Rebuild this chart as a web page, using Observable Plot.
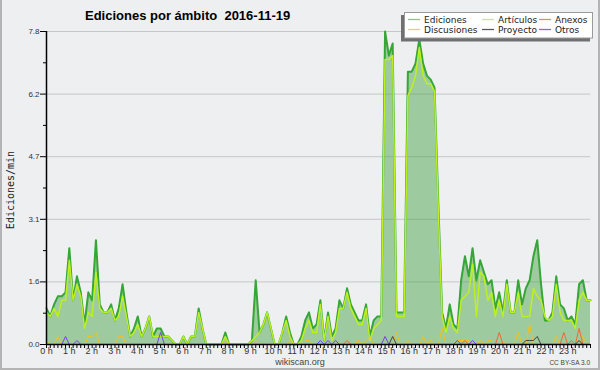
<!DOCTYPE html>
<html><head><meta charset="utf-8">
<script src="https://cdn.jsdelivr.net/npm/d3@7"></script>
<script src="https://cdn.jsdelivr.net/npm/@observablehq/plot@0.6"></script>
<style>
body{margin:0;background:#fff}
#wrap{position:relative;width:600px;height:370px;background:#eeeff1;overflow:hidden}
#wrap svg{position:absolute;left:0;top:0}
#frame{position:absolute;left:0;top:0;width:600px;height:370px;box-sizing:border-box;border:2px solid #b4b4b4;border-top:none;pointer-events:none}
</style></head>
<body><div id="wrap"></div>
<script>
// 10-minute bins, values in edits per minute
const ediciones = [
  0.9,0.7,1.0,1.2,1.2,1.3, 2.4,1.1,1.7,1.3,0.5,1.3,
  1.1,2.6,1.0,0.8,0.8,1.0, 0.6,0.9,1.5,0.8,0.2,0.4,
  0.7,0.2,0.4,0.7,0.2,0.4, 0.4,0.2,0.2,0.1,0.0,0.0,
  0.2,0.0,0.2,0.2,0.9,0.4, 0.0,0.0,0.0,0.0,0.0,0.3,
  0.0,0.0,0.0,0.0,0.0,0.0, 0.1,1.6,0.3,0.5,0.8,0.4,
  0.0,0.0,0.3,0.7,0.3,0.0, 0.0,0.2,0.6,0.8,0.4,0.5,
  1.1,0.1,0.8,0.2,0.4,1.1, 0.9,1.4,1.0,0.8,0.6,0.6,
  1.0,0.2,0.6,0.7,0.7,7.8, 7.2,7.5,0.8,0.8,0.8,6.8,
  6.8,7.0,7.6,7.0,6.7,6.6, 6.4,3.5,0.8,0.4,1.0,0.5,
  0.4,1.6,2.2,1.7,2.4,1.6, 2.1,1.8,1.5,1.6,0.9,1.3,
  0.8,1.6,0.8,0.8,1.6,1.0, 1.4,1.6,2.2,2.6,1.5,0.6,
  0.6,0.8,1.7,1.0,0.9,0.6, 0.7,0.5,1.5,1.6,1.1,1.1
];
const articulos = [
  0.8,0.7,0.9,0.7,1.1,1.1, 2.1,1.1,1.5,1.2,0.4,0.8,
  0.7,1.8,0.9,0.8,0.8,0.9, 0.6,0.7,1.2,0.7,0.2,0.3,
  0.5,0.2,0.4,0.7,0.2,0.2, 0.2,0.2,0.2,0.1,0.0,0.0,
  0.2,0.0,0.2,0.2,0.8,0.4, 0.0,0.0,0.0,0.0,0.0,0.2,
  0.0,0.0,0.0,0.0,0.0,0.0, 0.1,0.2,0.3,0.5,0.8,0.4,
  0.0,0.0,0.3,0.6,0.2,0.0, 0.0,0.1,0.4,0.6,0.3,0.3,
  1.0,0.1,0.7,0.1,0.3,0.9, 0.9,1.3,0.9,0.7,0.5,0.5,
  0.9,0.1,0.4,0.5,0.6,7.1, 7.1,7.2,0.7,0.7,0.7,6.2,
  6.4,6.7,7.4,6.7,6.5,6.5, 6.3,3.3,0.7,0.3,0.7,0.4,
  0.3,1.1,1.2,1.3,2.0,0.7, 1.8,1.7,1.1,1.3,0.7,1.1,
  0.7,1.5,0.8,0.8,1.3,0.7, 0.7,0.7,1.4,1.2,1.1,0.7,
  0.6,0.7,1.5,0.8,0.6,0.6, 0.6,0.4,1.1,1.3,1.1,1.1
];
const discusiones = [
  0.1,0,0,0.2,0,0, 0,0,0,0,0,0.2,
  0.2,0.3,0,0,0,0, 0,0.2,0.2,0,0,0,
  0,0,0,0,0,0, 0,0,0,0,0,0,
  0,0,0,0,0,0, 0,0,0,0,0,0.1,
  0,0,0,0,0,0, 0,0.1,0,0,0,0,
  0,0,0,0,0.1,0, 0,0,0.1,0.1,0,0,
  0,0,0,0,0,0, 0,0,0,0,0.1,0,
  0.1,0.2,0,0,0,0, 0,0,0.3,0,0,0.1,
  0,0,0,0.2,0,0.1, 0,0,0.4,0,0,0,
  0.1,0.1,0.1,0.1,0,0, 0.1,0,0.1,0.1,0,0,
  0.1,0,0,0,0.3,0, 0,0.5,0,0,0,0,
  0,0,0.2,0,0,0, 0,0,0,0.2,0,0
];
const anexos = [
  0,0,0,0,0,0, 0,0,0,0,0,0,
  0,0,0,0,0,0, 0,0,0,0,0,0,
  0,0,0,0,0,0, 0,0,0,0,0,0,
  0,0,0,0,0,0, 0,0,0,0,0,0,
  0,0,0,0,0,0, 0,0,0,0,0,0,
  0,0,0,0,0,0, 0,0,0,0,0,0,
  0,0,0,0,0,0, 0,0.1,0,0,0,0,
  0,0,0,0,0,0, 0,0,0,0,0,0,
  0,0,0,0,0,0, 0,0,0,0,0,0,
  0,0,0.1,0,0,0, 0,0,0,0,0,0.3,
  0,0,0,0,0,0, 0,0,0,0,0,0,
  0,0,0,0,0.3,0, 0.1,0,0.4,0,0,0
];
const proyecto = [
  0,0,0,0,0,0, 0,0,0,0,0,0,
  0,0,0,0,0,0, 0,0,0,0,0,0,
  0,0,0,0,0,0, 0,0,0,0,0,0,
  0,0,0,0,0,0, 0,0,0,0,0,0,
  0,0,0,0,0,0, 0,0,0,0,0,0,
  0,0,0,0,0,0, 0,0,0,0,0,0,
  0,0,0,0,0,0, 0,0,0,0,0,0,
  0,0,0,0,0,0, 0,0.2,0,0,0,0,
  0,0,0,0,0,0, 0,0,0,0,0,0,
  0,0,0,0,0,0, 0,0,0,0,0,0,
  0,0,0,0,0,0, 0.1,0.1,0.1,0.2,0,0,
  0,0,0,0,0,0, 0,0,0.1,0,0,0
];
const otros = [
  0,0,0,0,0,0.2, 0,0,0.1,0,0,0,
  0,0,0,0,0,0, 0,0,0,0,0,0,
  0,0,0,0,0,0, 0.3,0,0,0,0,0,
  0,0,0,0,0,0, 0,0,0,0,0,0,
  0,0,0,0,0,0, 0,0,0,0,0,0,
  0,0,0,0,0,0, 0,0,0,0,0,0,
  0.1,0,0.1,0,0.1,0, 0,0,0,0,0,0,
  0,0,0,0,0,0.2, 0,0,0,0,0,0,
  0,0,0,0,0,0, 0,0,0,0,0,0,
  0.1,0,0,0,0.1,0, 0,0,0,0,0,0,
  0,0,0,0,0,0, 0,0,0,0,0,0,
  0,0,0,0,0,0, 0,0,0,0,0,0
];
const seriesNames = ["Ediciones","Artículos","Anexos","Discusiones","Proyecto","Otros"];
const seriesColors = ["#36a636","#bdf020","#f06a30","#f2c21c","#444444","#7a3ef0"];
const legendColors = ["#7fcf7f","#cdf050","#f08a5a","#f6d04a","#5a5a5a","#a058f0"];
const yMax = 7.8;
const hourLabels = d3.range(24).map(h => `${h} h`);
const titleText = "Ediciones por ámbito  2016-11-19";
const yTitle = "Ediciones/min";

const minutes = d3.range(ediciones.length).map(i => i * 10);
const lastMin = minutes[minutes.length - 1];
const rows = minutes.map((m, i) => ({m, ed: ediciones[i], art: articulos[i], dis: discusiones[i], anx: anexos[i], pro: proyecto[i], otr: otros[i]}));
const yMajor = d3.range(6).map(k => yMax * k / 5);
const yMinor = d3.range(5).map(k => yMax * (k + 0.5) / 5);
const hourPos = hourLabels.map((_, h) => h * lastMin / 24);
const labelOf = new Map(hourPos.map((p, h) => [p, hourLabels[h]]));

const chart = Plot.plot({
  width: 600, height: 370,
  marginLeft: 46, marginRight: 10, marginTop: 31, marginBottom: 26,
  style: {background: "transparent", fontFamily: "'Liberation Sans', sans-serif", color: "#333", overflow: "visible"},
  x: {domain: [0, lastMin]},
  y: {domain: [0, yMax]},
  marks: [
    Plot.gridY(yMajor, {stroke: "#c6c6c6", strokeOpacity: 1}),
    Plot.areaY(rows, {x: "m", y: "ed", fill: "#4ca64c", fillOpacity: 0.5}),
    Plot.lineY(rows, {x: "m", y: "ed", stroke: seriesColors[0], strokeWidth: 2}),
    Plot.lineY(rows, {x: "m", y: "art", stroke: seriesColors[1], strokeWidth: 1.5}),
    Plot.lineY(rows, {x: "m", y: "dis", stroke: seriesColors[3], strokeWidth: 1}),
    Plot.lineY(rows, {x: "m", y: "anx", stroke: seriesColors[2], strokeWidth: 1}),
    Plot.lineY(rows, {x: "m", y: "pro", stroke: seriesColors[4], strokeWidth: 1}),
    Plot.lineY(rows, {x: "m", y: "otr", stroke: seriesColors[5], strokeWidth: 1}),
    Plot.ruleY([0], {stroke: "#000", strokeWidth: 1.5}),
    Plot.ruleX([0], {stroke: "#000", strokeWidth: 1.5}),
    Plot.axisY(yMajor, {tickSize: 6, tickPadding: 1, tickFormat: d => d.toFixed(1), fontSize: 8, label: null, stroke: "#000"}),
    Plot.axisY(yMinor, {tickSize: 3, tickFormat: () => "", label: null, stroke: "#000"}),
    Plot.axisX(minutes, {tickSize: 4, tickFormat: () => "", label: null, stroke: "#000"}),
    Plot.axisX(hourPos, {tickSize: 0, tickPadding: 3, tickFormat: d => labelOf.get(d), fontSize: 9, label: null})
  ]
});
const wrap = document.getElementById("wrap");
wrap.appendChild(chart);

// overlay: title, y title, legend, credits
const ov = d3.select(wrap).append("svg").attr("width", 600).attr("height", 370)
  .style("font-family", "'Liberation Sans', sans-serif");
ov.append("text").attr("x", 85).attr("y", 19.5).attr("font-size", 13).attr("font-weight", "bold")
  .attr("fill", "#000").attr("xml:space", "preserve").style("white-space", "pre").text(titleText);
ov.append("text").attr("transform", "translate(13.5,190) rotate(-90)").attr("text-anchor", "middle")
  .attr("font-family", "'DejaVu Sans Mono', monospace").attr("font-size", 10).attr("fill", "#222").text(yTitle);
ov.append("text").attr("x", 300).attr("y", 364.5).attr("text-anchor", "middle").attr("font-size", 9).attr("fill", "#444").text("wikiscan.org");
ov.append("text").attr("x", 590).attr("y", 365).attr("text-anchor", "end").attr("font-size", 6.5).attr("fill", "#444").text("CC BY-SA 3.0");

const lg = ov.append("g");
lg.append("rect").attr("x", 401).attr("y", 15).attr("width", 189).attr("height", 26.5).attr("fill", "#707070");
lg.append("rect").attr("x", 404.5).attr("y", 12.5).attr("width", 188).attr("height", 25.5).attr("fill", "#fff").attr("stroke", "#9a9a9a");
const legendOrder = [0, 3, 1, 4, 2, 5]; // col1 Ediciones/Discusiones, col2 Artículos/Proyecto, col3 Anexos/Otros
const colX = [408, 482, 539];
const rowY = [19.5, 29.5];
legendOrder.forEach((s, k) => {
  const c = Math.floor(k / 2), r = k % 2;
  lg.append("line").attr("x1", colX[c]).attr("x2", colX[c] + 12).attr("y1", rowY[r]).attr("y2", rowY[r])
    .attr("stroke", legendColors[s]).attr("stroke-width", 1.3);
  lg.append("text").attr("x", colX[c] + 16).attr("y", rowY[r] + 3.2).attr("font-family", "'DejaVu Sans', sans-serif")
    .attr("font-size", 9).attr("fill", "#222").text(seriesNames[s]);
});
d3.select(wrap).append("div").attr("id", "frame");
</script>
</body></html>
